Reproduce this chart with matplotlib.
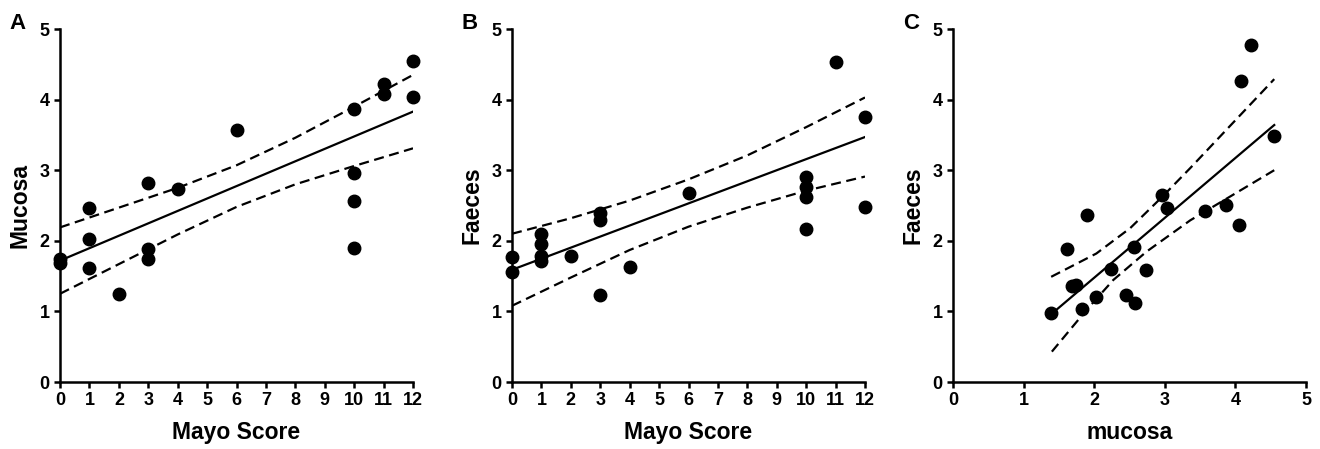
import matplotlib
matplotlib.use("Agg")
import matplotlib.pyplot as plt

plt.rcParams["font.family"] = ["Liberation Sans", "DejaVu Sans"]
plt.rcParams["font.weight"] = "bold"

# Panel A: Mayo score vs mucosa
mayo_a = [0, 0, 1, 1, 1, 2, 3, 3, 3, 4, 6, 10, 10, 10, 10, 11, 11, 12, 12]
mucosa_a = [1.74, 1.69, 2.46, 2.03, 1.62, 1.25, 2.82, 1.88, 1.74, 2.74, 3.57,
            3.86, 2.96, 2.57, 1.90, 4.22, 4.08, 4.55, 4.04]
fit_x_a = [0, 12]
fit_y_a = [1.72, 3.83]
up_x_a = [0, 2, 4, 6, 8, 10, 12]
up_y_a = [2.19, 2.47, 2.75, 3.07, 3.46, 3.90, 4.35]
lo_x_a = [0, 2, 4, 6, 8, 10, 12]
lo_y_a = [1.25, 1.67, 2.09, 2.48, 2.80, 3.06, 3.31]

# Panel B: Mayo score vs faeces
mayo_b = [0, 0, 1, 1, 1, 1, 2, 3, 3, 3, 4, 6, 10, 10, 10, 10, 11, 12, 12]
faeces_b = [1.77, 1.56, 2.09, 1.95, 1.79, 1.72, 1.79, 2.39, 2.29, 1.23, 1.63,
            2.68, 2.90, 2.76, 2.62, 2.17, 4.53, 3.75, 2.48]
fit_x_b = [0, 12]
fit_y_b = [1.59, 3.47]
up_x_b = [0, 2, 4, 6, 8, 10, 12]
up_y_b = [2.10, 2.32, 2.57, 2.87, 3.21, 3.61, 4.03]
lo_x_b = [0, 2, 4, 6, 8, 10, 12]
lo_y_b = [1.08, 1.48, 1.87, 2.20, 2.47, 2.71, 2.91]

# Panel C: mucosa vs faeces
mucosa_c = [1.39, 1.62, 1.68, 1.74, 1.82, 1.90, 2.02, 2.24, 2.45, 2.57, 2.58,
            2.73, 2.96, 3.03, 3.57, 3.86, 4.05, 4.08, 4.22, 4.55]
faeces_c = [0.98, 1.89, 1.36, 1.38, 1.03, 2.36, 1.20, 1.60, 1.23, 1.91, 1.12,
            1.58, 2.65, 2.46, 2.42, 2.51, 2.22, 4.27, 4.77, 3.49]
fit_x_c = [1.39, 4.55]
fit_y_c = [0.96, 3.64]
up_x_c = [1.39, 2.03, 2.51, 2.96, 3.36, 4.55]
up_y_c = [1.49, 1.82, 2.18, 2.62, 3.03, 4.29]
lo_x_c = [1.40, 1.89, 2.27, 2.74, 3.36, 4.55]
lo_y_c = [0.43, 1.02, 1.445, 1.846, 2.29, 3.00]

DASH = (0, (4.5, 2.5))


def draw(ax, x, y, fx, fy, ux, uy, lx, ly):
    ax.plot(fx, fy, color="black", lw=1.6, zorder=2)
    ax.plot(ux, uy, color="black", lw=1.6, ls=DASH, zorder=2)
    ax.plot(lx, ly, color="black", lw=1.6, ls=DASH, zorder=2)
    ax.plot(x, y, "o", color="black", ms=9, clip_on=False, zorder=3)


def style(ax, xmax, xlabel, ylabel, letter):
    ax.set_xlim(0, xmax)
    ax.set_ylim(0, 5)
    ax.set_xticks(range(0, xmax + 1))
    ax.set_yticks(range(0, 6))
    for side in ("top", "right"):
        ax.spines[side].set_visible(False)
    for side in ("left", "bottom"):
        ax.spines[side].set_linewidth(1.8)
    ax.tick_params(width=1.8, length=4.5, labelsize=13, pad=3)
    for lab in ax.get_xticklabels() + ax.get_yticklabels():
        lab.set_fontweight("bold")
    ax.set_xlabel(xlabel, fontsize=16.5, fontweight="bold", labelpad=8)
    ax.set_ylabel(ylabel, fontsize=16.5, fontweight="bold", labelpad=6)
    ax.text(-0.12, 1.015, letter, transform=ax.transAxes, fontsize=16,
            fontweight="bold", va="center", ha="center")


fig = plt.figure(figsize=(13.2, 4.49), dpi=100)
w, h, b = 0.2674, 0.7862, 0.1492
ax_a = fig.add_axes([0.0455, b, w, h])
ax_b = fig.add_axes([0.3879, b, w, h])
ax_c = fig.add_axes([0.7220, b, w, h])

draw(ax_a, mayo_a, mucosa_a, fit_x_a, fit_y_a, up_x_a, up_y_a, lo_x_a, lo_y_a)
style(ax_a, 12, "Mayo Score", "Mucosa", "A")

draw(ax_b, mayo_b, faeces_b, fit_x_b, fit_y_b, up_x_b, up_y_b, lo_x_b, lo_y_b)
style(ax_b, 12, "Mayo Score", "Faeces", "B")

draw(ax_c, mucosa_c, faeces_c, fit_x_c, fit_y_c, up_x_c, up_y_c, lo_x_c, lo_y_c)
style(ax_c, 5, "mucosa", "Faeces", "C")

fig.savefig("out.png", dpi=100)
